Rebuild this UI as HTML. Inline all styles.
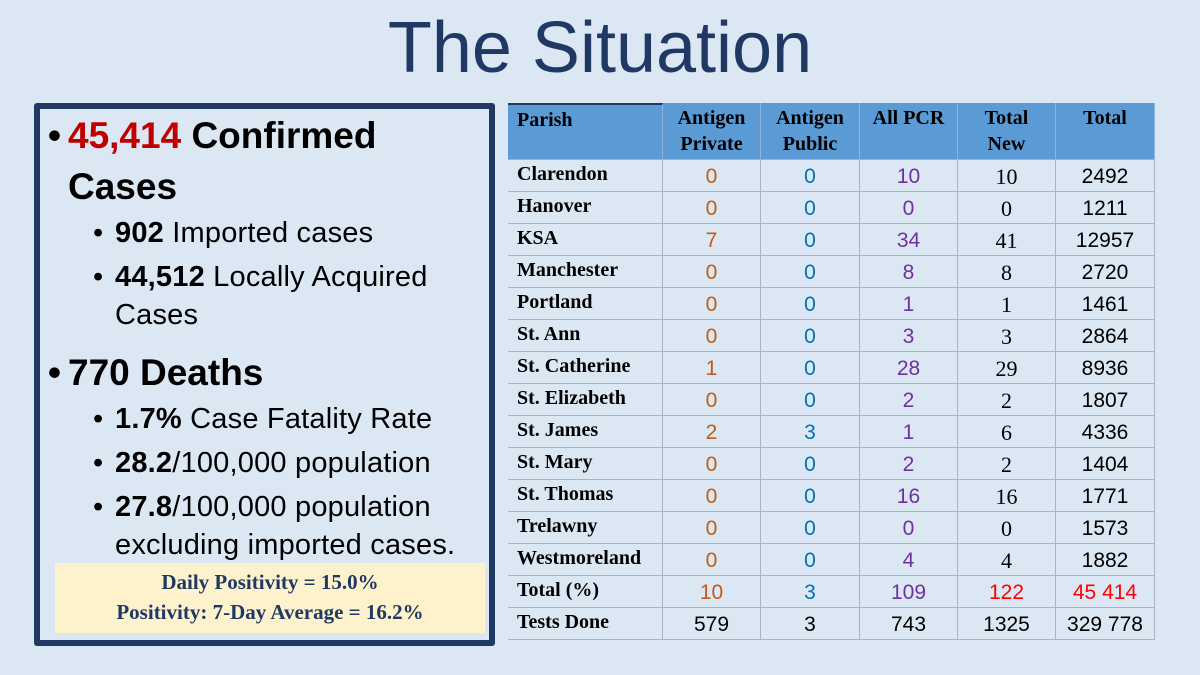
<!DOCTYPE html>
<html><head><meta charset="utf-8"><style>
body{margin:0;width:1200px;height:675px;background:#dce7f4;position:relative;overflow:hidden;font-family:"Liberation Sans",sans-serif}
#title{position:absolute;left:0;width:1200px;top:6px;text-align:center;font-size:72px;color:#1f3864;line-height:84px}
#box{position:absolute;left:34px;top:103px;width:449px;height:531px;border:6px solid #1f3864;border-radius:3px;background:#dce7f4}
.l1{position:absolute;left:28px;font-size:37px;font-weight:bold;color:#000;line-height:44px;white-space:nowrap}
.l2{position:absolute;left:75px;font-size:29px;color:#000;line-height:38px;white-space:nowrap;letter-spacing:0.2px}
.bl{position:absolute;left:-20px}
.bl2{position:absolute;left:-22px}
#pos{position:absolute;left:15px;top:454px;width:430px;height:70px;background:#fdf2cc;text-align:center;font-family:"Liberation Serif",serif;font-weight:bold;color:#1f3864;font-size:21px;line-height:30px;padding-top:4px;box-sizing:border-box}
#tbl{position:absolute;left:0;top:0}
.c{position:absolute;box-sizing:border-box;border-right:1.5px solid #a9b4c2;border-bottom:1.5px solid #a9b4c2;text-align:center}
</style></head><body>
<div id="title">The Situation</div>
<div id="box">
<div class="l1" style="top:5px"><span class="bl">•</span><span style="color:#c00000">45,414</span> Confirmed</div>
<div class="l1" style="top:56px">Cases</div>
<div class="l2" style="top:105px"><span class="bl2">•</span><b>902</b> Imported cases</div>
<div class="l2" style="top:149px"><span class="bl2">•</span><b>44,512</b> Locally Acquired</div>
<div class="l2" style="top:187px">Cases</div>
<div class="l1" style="top:242px"><span class="bl">•</span>770 Deaths</div>
<div class="l2" style="top:291px"><span class="bl2">•</span><b>1.7%</b> Case Fatality Rate</div>
<div class="l2" style="top:335px"><span class="bl2">•</span><b>28.2</b>/100,000 population</div>
<div class="l2" style="top:379px"><span class="bl2">•</span><b>27.8</b>/100,000 population</div>
<div class="l2" style="top:417px">excluding imported cases.</div>
<div id="pos">Daily Positivity = 15.0%<br>Positivity: 7-Day Average = 16.2%</div>
</div>
<div id="tbl"></div>
<script>
const parishes=["Clarendon","Hanover","KSA","Manchester","Portland","St. Ann","St. Catherine","St. Elizabeth","St. James","St. Mary","St. Thomas","Trelawny","Westmoreland","Total (%)","Tests Done"];
const antigenPrivate=["0","0","7","0","0","0","1","0","2","0","0","0","0","10","579"];
const antigenPublic=["0","0","0","0","0","0","0","0","3","0","0","0","0","3","3"];
const allPCR=["10","0","34","8","1","3","28","2","1","2","16","0","4","109","743"];
const totalNew=["10","0","41","8","1","3","29","2","6","2","16","0","4","122","1325"];
const total=["2492","1211","12957","2720","1461","2864","8936","1807","4336","1404","1771","1573","1882","45 414","329 778"];
const headers=["Parish","Antigen<br>Private","Antigen<br>Public","All PCR","Total<br>New","Total"];
const colX=[508,663,761,860,958,1056,1155];
const tbl=document.getElementById('tbl');
const top0=103,headH=57,rowH=32;
const hnames=['header-parish','header-antigen-private','header-antigen-public','header-all-pcr','header-total-new','header-total'];
for(let j=0;j<6;j++){
 const d=document.createElement('div');d.className='c';
 
 
 d.style.cssText=`left:${colX[j]}px;top:${top0}px;width:${colX[j+1]-colX[j]}px;height:${headH}px;background:#5b9bd5;font-family:"Liberation Serif",serif;font-weight:bold;font-size:20px;line-height:26px;padding-top:2px;text-align:${j==0?'left':'center'};padding-left:${j==0?9:0}px;border-color:#8fb3da`;
 if(j==0)d.style.borderTop='2px solid #1f3864';
 d.innerHTML=headers[j];tbl.appendChild(d);
}
const cols=[parishes,antigenPrivate,antigenPublic,allPCR,totalNew,total];
const colNames=['parish','antigen-private','antigen-public','all-pcr','total-new','total'];
for(let i=0;i<parishes.length;i++){
 for(let j=0;j<6;j++){
  const d=document.createElement('div');d.className='c';
  
  
  let color='#000',font='"Liberation Sans",sans-serif',weight='normal',align='center',size=21;
  if(j==0){font='"Liberation Serif",serif';weight='bold';align='left';size=20;}
  else if(i<14){
   if(j==1)color='#c55a11';else if(j==2)color='#0070c0';else if(j==3)color='#7030a0';
   else if(j==4){font='"Liberation Serif",serif';size=22;}
   if(i==13&&(j==4||j==5)){color='#ff0000';font='"Liberation Sans",sans-serif';size=21;}
  }
  d.style.cssText=`left:${colX[j]}px;top:${top0+headH+i*rowH}px;width:${colX[j+1]-colX[j]}px;height:${rowH}px;color:${color};font-family:${font};font-weight:${weight};font-size:${size}px;text-align:${align};padding-left:${j==0?9:0}px;line-height:${j==0?28:34}px`;
  d.textContent=cols[j][i];tbl.appendChild(d);
 }
}
</script>
</body></html>
